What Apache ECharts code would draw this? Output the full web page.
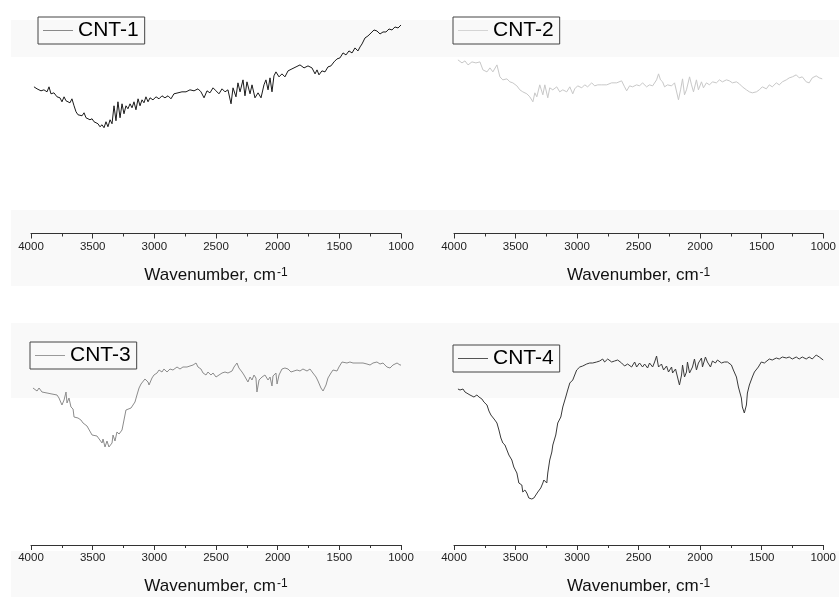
<!DOCTYPE html>
<html>
<head>
<meta charset="utf-8">
<script src="https://cdn.jsdelivr.net/npm/echarts@6/dist/echarts.min.js"></script>
<style>
html,body{margin:0;padding:0;background:#fff;}
#chart{width:839px;height:597px;}
</style>
</head>
<body>
<div id="chart"></div>
<script>
// Series names
const seriesNames = ['CNT-1', 'CNT-2', 'CNT-3', 'CNT-4'];
// X axis tick labels (wavenumber, cm-1)
const xTicks = [4000, 3500, 3000, 2500, 2000, 1500, 1000];

// CNT-1 : wavenumber / intensity (a.u.)
const cnt1Wn = [3976,3951,3935,3919,3895,3870,3854,3838,3814,3789,3765,3749,3732,3716,3700,3684,3668,3651,3635,3619,3603,3586,3570,3554,3538,3522,3505,3489,3473,3457,3441,3424,3408,3392,3376,3359,3343,3327,3311,3295,3278,3262,3246,3230,3214,3197,3181,3165,3149,3132,3116,3100,3084,3068,3051,3035,3011,2986,2962,2938,2914,2889,2865,2841,2808,2776,2743,2711,2678,2646,2622,2597,2573,2549,2524,2500,2476,2451,2427,2403,2378,2362,2338,2322,2305,2281,2265,2249,2224,2208,2184,2159,2135,2111,2095,2078,2062,2046,2030,2014,1989,1965,1941,1916,1884,1851,1819,1786,1754,1722,1697,1681,1665,1641,1616,1592,1568,1543,1519,1495,1470,1446,1422,1397,1373,1349,1332,1316,1292,1268,1243,1219,1195,1170,1146,1122,1097,1073,1049,1024,1000];
const cnt1Val = [147,145,146,143,144,142,147,140,141,137,136,132,137,133,134,131,135,128,122,119,120,118,121,116,118,114,115,112,114,110,107,109,106,112,107,114,110,128,113,132,116,130,120,128,125,130,126,132,124,135,128,134,131,137,132,136,134,137,135,138,136,138,135,140,141,142,142,144,143,145,142,136,143,141,146,143,140,145,142,144,130,146,137,151,142,154,138,152,140,149,136,141,136,149,154,144,156,142,158,162,157,160,157,163,165,167,169,166,168,166,160,164,159,163,162,167,168,172,175,176,181,179,183,181,186,183,187,190,196,198,201,204,203,200,202,202,205,204,207,206,209];

// CNT-2
const cnt2Wn = [3968,3935,3911,3886,3854,3822,3789,3765,3732,3708,3684,3651,3627,3603,3570,3546,3522,3489,3465,3441,3408,3384,3359,3343,3327,3303,3278,3262,3238,3222,3197,3165,3141,3116,3084,3059,3035,3019,2995,2962,2938,2914,2881,2857,2832,2800,2759,2719,2678,2638,2614,2597,2573,2549,2516,2492,2468,2435,2411,2386,2354,2338,2322,2305,2289,2265,2232,2208,2192,2176,2159,2143,2127,2111,2086,2070,2054,2030,2014,1989,1973,1949,1924,1900,1868,1843,1819,1786,1762,1738,1705,1681,1657,1624,1600,1576,1543,1519,1495,1462,1438,1414,1381,1357,1332,1300,1276,1251,1219,1195,1170,1138,1114,1089,1057,1032,1008];
const cnt2Val = [174,171,173,169,172,171,172,164,162,166,162,169,157,154,155,152,151,148,144,142,140,137,132,141,137,149,139,149,136,146,144,147,142,144,142,147,140,145,148,146,149,147,151,148,149,149,149,151,151,153,147,143,148,147,149,148,151,147,149,148,154,160,154,152,147,149,148,151,151,134,144,155,139,144,157,149,142,154,144,152,146,151,149,152,151,154,152,154,153,151,152,150,147,144,142,141,142,144,147,145,149,147,151,149,152,154,156,157,159,156,157,152,151,156,158,156,155];

// CNT-3
const cnt3Wn = [3984,3951,3935,3911,3895,3870,3854,3830,3814,3789,3773,3749,3732,3716,3708,3692,3676,3659,3651,3635,3619,3595,3578,3562,3546,3530,3505,3489,3465,3449,3424,3416,3400,3384,3368,3343,3335,3319,3303,3286,3262,3246,3230,3214,3189,3173,3157,3141,3124,3108,3092,3076,3051,3043,3019,3003,2978,2962,2938,2922,2897,2873,2849,2816,2792,2768,2735,2711,2686,2662,2646,2622,2605,2581,2565,2541,2524,2500,2484,2451,2427,2403,2370,2354,2330,2314,2289,2273,2257,2241,2224,2208,2192,2176,2168,2151,2127,2103,2078,2062,2046,2038,2014,2005,1989,1965,1941,1916,1892,1876,1843,1819,1795,1762,1738,1714,1689,1673,1649,1632,1608,1592,1568,1551,1519,1503,1478,1462,1438,1414,1389,1357,1332,1308,1276,1251,1227,1195,1170,1146,1114,1089,1065,1032,1008,1000];
const cnt3Val = [157,154,157,153,155,152,154,151,153,150,147,140,145,153,142,147,138,136,128,126,127,125,122,123,119,118,110,112,109,108,102,106,98,104,98,102,110,104,113,111,115,116,135,133,137,137,143,150,157,161,162,166,163,160,167,170,172,175,173,176,173,176,175,178,176,178,178,179,180,182,178,176,172,170,173,170,172,168,170,172,173,172,174,178,182,177,173,170,168,163,168,165,170,167,153,165,168,170,165,168,159,169,172,161,170,176,177,176,173,172,175,174,176,174,176,172,168,164,157,154,160,167,172,175,174,178,183,182,182,183,182,182,182,182,181,180,182,183,181,182,178,177,180,182,180,180];

// CNT-4
const cnt4Wn = [3968,3951,3927,3911,3895,3870,3854,3838,3814,3797,3773,3757,3732,3716,3700,3684,3668,3651,3635,3619,3603,3586,3570,3554,3530,3514,3489,3473,3449,3441,3424,3408,3392,3368,3351,3335,3319,3295,3278,3270,3246,3238,3222,3205,3197,3173,3157,3132,3116,3092,3076,3059,3035,3019,3003,2978,2954,2922,2897,2873,2841,2816,2792,2776,2751,2719,2695,2670,2638,2614,2589,2557,2532,2516,2492,2468,2451,2427,2411,2386,2370,2354,2338,2314,2297,2273,2257,2232,2224,2200,2184,2168,2151,2143,2127,2111,2103,2086,2062,2046,2030,2014,1989,1981,1957,1941,1916,1900,1876,1859,1827,1803,1778,1746,1730,1705,1689,1665,1657,1641,1624,1616,1600,1576,1559,1543,1527,1503,1495,1478,1462,1438,1414,1381,1357,1332,1300,1276,1251,1219,1195,1170,1138,1114,1089,1057,1032,1000];
const cnt4Val = [156,155,156,153,154,150,152,148,150,148,146,143,140,134,130,128,125,122,115,107,102,100,95,90,85,78,72,62,60,53,55,52,47,46,47,48,53,57,62,65,62,72,85,93,100,110,122,128,138,148,155,162,165,170,175,178,179,181,182,182,183,184,186,183,186,183,184,185,182,179,181,178,183,178,182,178,181,177,182,178,183,189,178,181,175,179,173,178,172,176,168,160,170,180,168,173,183,172,178,186,175,182,187,178,188,183,178,184,182,185,182,183,183,180,175,168,158,147,138,132,140,152,160,168,173,175,178,183,185,182,184,186,185,187,186,188,187,188,186,188,186,188,186,188,186,190,188,185];

const wnList = [cnt1Wn, cnt2Wn, cnt3Wn, cnt4Wn];
const valList = [cnt1Val, cnt2Val, cnt3Val, cnt4Val];
const lineColors = ['#1a1a1a', '#c8c8c8', '#8c8c8c', '#3a3a3a'];
const legendLineColors = ['#8a8a8a', '#d4d4d4', '#9a9a9a', '#555555'];

const FONT = 'Liberation Sans, Arial, sans-serif';
const grids = [
  {left: 31, top: 20, width: 370, height: 213.5},
  {left: 454, top: 20, width: 370, height: 213.5},
  {left: 31, top: 331, width: 370, height: 214},
  {left: 454, top: 331, width: 370, height: 214}
];
const legendPos = [
  {left: 38, top: 17},
  {left: 453, top: 17},
  {left: 30, top: 342},
  {left: 453, top: 345}
];

const chart = echarts.init(document.getElementById('chart'), null, {renderer: 'canvas'});

const option = {
  backgroundColor: '#ffffff',
  animation: false,
  graphic: [
    {type: 'rect', z: -10, silent: true, shape: {x: 11, y: 20, width: 828, height: 37}, style: {fill: '#f9f9f9'}},
    {type: 'rect', z: -10, silent: true, shape: {x: 11, y: 210, width: 828, height: 76}, style: {fill: '#f9f9f9'}},
    {type: 'rect', z: -10, silent: true, shape: {x: 11, y: 323, width: 828, height: 75}, style: {fill: '#f9f9f9'}},
    {type: 'rect', z: -10, silent: true, shape: {x: 11, y: 551, width: 828, height: 46}, style: {fill: '#f9f9f9'}}
  ],
  grid: grids.map(g => Object.assign({containLabel: false}, g)),
  legend: seriesNames.map((n, i) => ({
    data: [n],
    left: legendPos[i].left,
    top: legendPos[i].top,
    borderColor: '#444',
    borderWidth: 1,
    borderRadius: 0,
    padding: [3, 6, 3, 5],
    icon: 'rect',
    itemWidth: 30,
    itemHeight: 1,
    itemGap: 0,
    itemStyle: {color: legendLineColors[i], borderWidth: 0},
    selectedMode: false,
    textStyle: {fontSize: 21, color: '#000', fontFamily: FONT}
  })),
  xAxis: grids.map((g, i) => ({
    type: 'value',
    gridIndex: i,
    min: 1000,
    max: 4000,
    interval: 500,
    inverse: true,
    axisLine: {show: true, onZero: false, lineStyle: {color: '#333', width: 1}},
    axisTick: {show: true, inside: false, length: 5, lineStyle: {color: '#333'}},
    minorTick: {show: true, splitNumber: 2, length: 3, lineStyle: {color: '#333'}},
    splitLine: {show: false},
    axisLabel: {
      show: true, margin: 7, color: '#222', fontSize: 11.5, fontFamily: FONT,
      formatter: v => (xTicks.indexOf(v) >= 0 ? String(v) : '')
    },
    name: 'Wavenumber, cm{sup|-1}',
    nameLocation: 'middle',
    nameGap: 33,
    nameTextStyle: {
      fontSize: 17, color: '#111', fontFamily: FONT,
      rich: {sup: {fontSize: 12, color: '#111', fontFamily: FONT, verticalAlign: 'top', lineHeight: 12, padding: [0, 0, 0, 1]}}
    }
  })),
  yAxis: grids.map((g, i) => ({
    type: 'value',
    gridIndex: i,
    min: 0,
    max: 214,
    show: false
  })),
  series: seriesNames.map((n, i) => ({
    name: n,
    type: 'line',
    xAxisIndex: i,
    yAxisIndex: i,
    symbol: 'none',
    smooth: false,
    lineStyle: {color: lineColors[i], width: 1},
    itemStyle: {color: lineColors[i]},
    data: wnList[i].map((w, k) => [w, valList[i][k]])
  }))
};
chart.setOption(option);
</script>
</body>
</html>
